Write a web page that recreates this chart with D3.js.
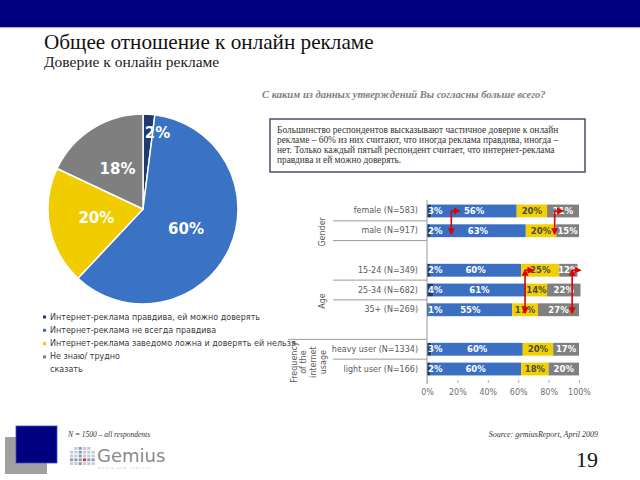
<!DOCTYPE html>
<html><head><meta charset="utf-8">
<script src="https://cdn.jsdelivr.net/npm/d3@7/dist/d3.min.js"></script>
<style>body{margin:0;background:#fff}svg{display:block}</style>
</head><body><svg id="c" width="640" height="480"></svg>
<script>
// ---- data ----
const pieValues = [2, 60, 20, 18];
const pieLegend = [["Интернет-реклама правдива, ей можно доверять"], ["Интернет-реклама не всегда правдива"], ["Интернет-реклама заведомо ложна и доверять ей нельзя"], ["Не знаю/ трудно", "сказать"]];
const barCategories = ["female (N=583)", "male (N=917)", "", "15-24 (N=349)", "25-34 (N=682)", "35+ (N=269)", "", "heavy user (N=1334)", "light user (N=166)"];
const seriesTrust = [3, 2, null, 2, 4, 1, null, 3, 2];
const seriesPartly = [56, 63, null, 60, 61, 55, null, 60, 60];
const seriesFalse = [20, 20, null, 25, 14, 17, null, 20, 18];
const seriesDontKnow = [21, 15, null, 12, 22, 27, null, 17, 20];
const xTicks = [0, 0.2, 0.4, 0.6, 0.8, 1];
const xTickLabels = ["0%", "20%", "40%", "60%", "80%", "100%"];
const groups = [{lines: ["Gender"], from: 0, to: 1}, {lines: ["Age"], from: 3, to: 5}, {lines: ["Frequency", "of the", "internet", "usage"], from: 7, to: 8}];
const noteLines = ["Большинство респондентов высказывают частичное доверие к онлайн", "рекламе – 60%  из них считают, что иногда реклама правдива, иногда –", "нет. Только каждый пятый респондент считает, что интернет-реклама", "правдива и ей можно доверять."];
const arrows = [{v: 0.16, top: 0, bottom: 1, both: false}, {v: 0.84, top: 0, bottom: 1, both: false}, {v: 0.645, top: 3, bottom: 5, both: true}, {v: 0.955, top: 3, bottom: 5, both: true}];

const pieColors = ["#1f3a70", "#3a72c4", "#f0cc00", "#7f7f7f"];
const barColors = ["#1f3a70", "#3a6fc2", "#f2d000", "#808080"];
const labelColors = ["#fff", "#fff", "#4a4a4a", "#fff"];

const svg = d3.select("#c");
const serif = "'Liberation Serif','Times New Roman',serif";
const sans = "'DejaVu Sans',Verdana,sans-serif";

// header
svg.append("rect").attr("x", 0).attr("y", 0).attr("width", 640).attr("height", 27).attr("fill", "#000080");
svg.append("rect").attr("x", 0).attr("y", 27).attr("width", 640).attr("height", 1.2).attr("fill", "#aab4e6");
svg.append("text").attr("x", 44).attr("y", 49).attr("font-family", serif).attr("font-size", 21.2).attr("fill", "#111").text("Общее отношение к онлайн рекламе");
svg.append("text").attr("x", 44).attr("y", 67).attr("font-family", serif).attr("font-size", 15.5).attr("fill", "#222").text("Доверие к онлайн рекламе");

// ---- pie ----
const R = 95, cx = 143, cy = 209;
const pie = d3.pie().sort(null).value(d => d)(pieValues);
const arc = d3.arc().innerRadius(0).outerRadius(R);
const gp = svg.append("g").attr("transform", `translate(${cx},${cy})`);
gp.selectAll("path").data(pie).join("path").attr("d", arc).attr("fill", (d, i) => pieColors[i]).attr("stroke", "#fff").attr("stroke-width", 1.5);
const lblArcIn = d3.arc().innerRadius(R * 0.5).outerRadius(R * 0.5);
const lblArcOut = d3.arc().innerRadius(R * 0.8).outerRadius(R * 0.8);
gp.selectAll("text").data(pie).join("text")
  .attr("transform", d => { const small = d.value < 5; const c = (small ? lblArcOut : lblArcIn).centroid(d); return `translate(${c[0] - (small ? 3 : 0)},${c[1]})`; })
  .attr("text-anchor", d => d.value < 5 ? "start" : "middle").attr("dominant-baseline", "central")
  .attr("font-family", sans).attr("font-weight", "bold").attr("font-size", 15).attr("fill", "#fff")
  .text(d => d.value + "%");

// legend
const lg = svg.append("g");
let ly = 317;
pieLegend.forEach((lines, i) => {
  lg.append("rect").attr("x", 43).attr("y", ly - 1.5).attr("width", 3).attr("height", 3).attr("fill", pieColors[i]);
  lines.forEach((t, j) => {
    lg.append("text").attr("x", 50).attr("y", ly + j * 13).attr("dominant-baseline", "central").attr("font-family", sans).attr("font-size", 8).attr("fill", "#3a3a3a").text(t);
  });
  ly += 13.3 * lines.length;
});

// question
svg.append("text").attr("x", 262).attr("y", 98).attr("font-family", serif).attr("font-style", "italic").attr("font-weight", "bold").attr("font-size", 10.5).attr("fill", "#808080").text("С каким из данных утверждений Вы согласны больше всего?");

// note box
svg.append("rect").attr("x", 270).attr("y", 119).attr("width", 315).attr("height", 53).attr("fill", "#fff").attr("stroke", "#4d4d66").attr("stroke-width", 1.5);
noteLines.forEach((t, i) => svg.append("text").attr("x", 277).attr("y", 133 + i * 10).attr("font-family", serif).attr("font-size", 9.4).attr("fill", "#333").text(t));

// ---- stacked bars ----
const x = d3.scaleLinear().domain([0, 1]).range([427, 579]);
const y = d3.scaleBand().domain(d3.range(barCategories.length)).range([201.1, 378.9]).paddingInner(0.35).paddingOuter(0.175);
const series = [seriesTrust, seriesPartly, seriesFalse, seriesDontKnow];
const rows = barCategories.map((c, i) => ({i, c, vals: series.map(s => s[i])})).filter(r => r.vals[0] !== null);
const gRects = svg.append("g"), gLbl = svg.append("g");
rows.forEach(r => {
  let acc = 0;
  r.vals.forEach((v, k) => {
    const x0 = x(acc / 100), x1 = x((acc + v) / 100);
    gRects.append("rect").attr("x", x0).attr("y", y(r.i)).attr("width", x1 - x0).attr("height", y.bandwidth()).attr("fill", barColors[k]);
    gLbl.append("text").attr("x", k === 0 ? x0 + 1 : (x0 + x1) / 2).attr("y", y(r.i) + y.bandwidth() / 2)
      .attr("text-anchor", k === 0 ? "start" : "middle").attr("dominant-baseline", "central")
      .attr("font-family", sans).attr("font-weight", "bold").attr("font-size", 8.5).attr("fill", labelColors[k]).text(v + "%");
    acc += v;
  });
  gLbl.append("text").attr("x", 418).attr("y", y(r.i) + y.bandwidth() / 2).attr("text-anchor", "end").attr("dominant-baseline", "central")
    .attr("font-family", sans).attr("font-size", 8).attr("fill", "#5a5a5a").text(r.c);
});
const boundary = i => y(i) + y.bandwidth() + (y.step() - y.bandwidth()) / 2;
// separators
[[0, 333], [1, 333], [3, 333], [4, 333], [6, 288], [7, 333]].forEach(([i, x0]) => {
  svg.append("line").attr("x1", x0).attr("x2", 427).attr("y1", boundary(i)).attr("y2", boundary(i)).attr("stroke", "#9a9a9a").attr("stroke-width", 1);
});
// vertical axis line
svg.append("line").attr("x1", x(0)).attr("x2", x(0)).attr("y1", y.range()[0] - 1).attr("y2", 384).attr("stroke", "#999").attr("stroke-width", 1);
// group labels
groups.forEach(g => {
  const yc = (y(g.from) + y(g.to) + y.bandwidth()) / 2 + (g.lines.length === 1 ? 11 : 3);
  const n = g.lines.length;
  g.lines.forEach((t, j) => {
    const xc = n === 1 ? 322 : 294 + j * 9.9;
    svg.append("text").attr("transform", `translate(${xc},${yc}) rotate(-90)`).attr("text-anchor", "middle").attr("dominant-baseline", "central")
      .attr("font-family", sans).attr("font-size", 8).attr("fill", "#5a5a5a").text(t);
  });
});
// x axis
const ax = svg.append("g").attr("transform", "translate(0,380)")
  .call(d3.axisBottom(x).tickValues(xTicks).tickFormat((d, i) => xTickLabels[i]).tickSize(3).tickPadding(6));
ax.select(".domain").remove();
ax.selectAll("line").attr("stroke", "#aaa");
ax.selectAll("text").attr("font-family", sans).attr("font-size", 8).attr("fill", "#707070");

// red arrows
const defs = svg.append("defs");
defs.append("marker").attr("id", "ah").attr("viewBox", "0 0 10 10").attr("refX", 8).attr("refY", 5).attr("markerWidth", 7).attr("markerHeight", 7)
  .attr("markerUnits", "userSpaceOnUse").attr("orient", "auto-start-reverse").append("path").attr("d", "M0,0L10,5L0,10z").attr("fill", "#e00000");
arrows.forEach(a => {
  const xa = x(a.v), yt = y(a.top) + y.bandwidth() / 2, yb = y(a.bottom) + y.bandwidth() / 2 + 3;
  svg.append("line").attr("x1", xa).attr("x2", xa).attr("y1", yt).attr("y2", yb).attr("stroke", "#e00000").attr("stroke-width", 1.6)
    .attr("marker-end", "url(#ah)").attr("marker-start", a.both ? "url(#ah)" : null);
  svg.append("line").attr("x1", xa).attr("x2", xa + 8).attr("y1", yt).attr("y2", yt).attr("stroke", "#e00000").attr("stroke-width", 1.6).attr("marker-end", "url(#ah)");
});

// footer
svg.append("rect").attr("x", 5).attr("y", 437).attr("width", 42).attr("height", 37).attr("fill", "#a0a0a0");
svg.append("rect").attr("x", 16).attr("y", 426).attr("width", 41).attr("height", 37).attr("fill", "#000080").attr("stroke", "#3d4fd0").attr("stroke-width", 0.8);
svg.append("text").attr("x", 68).attr("y", 437).attr("font-family", serif).attr("font-style", "italic").attr("font-size", 7.5).attr("fill", "#333").text("N = 1500 – all respondents");
svg.append("text").attr("x", 598).attr("y", 437).attr("text-anchor", "end").attr("font-family", serif).attr("font-style", "italic").attr("font-size", 8).attr("fill", "#333").text("Source: gemiusReport, April 2009");
svg.append("text").attr("x", 598).attr("y", 467).attr("text-anchor", "end").attr("font-family", serif).attr("font-size", 22).attr("fill", "#111").text("19");
const logo = svg.append("g");
for (let c = 0; c < 6; c++) for (let r = 0; r < 5; r++) {
  if (r === 0 && (c === 0 || c === 5)) continue;
  const red = (c === 3 && r === 3);
  logo.append("rect").attr("x", 70 + c * 4.3).attr("y", 447 + r * 3.8).attr("width", 3.2).attr("height", 2.8)
    .attr("fill", red ? "#d83030" : (r === 3 || c === 2 ? "#8e9bb5" : "#c4cad8"));
}
svg.append("text").attr("x", 97).attr("y", 462).attr("font-family", sans).attr("font-size", 18).attr("fill", "#8a8a8a").text("Gemius");
svg.append("text").attr("x", 98).attr("y", 469).attr("font-family", sans).attr("font-size", 3).attr("letter-spacing", 1.5).attr("fill", "#bbb").text("media and reports");
</script></body></html>
